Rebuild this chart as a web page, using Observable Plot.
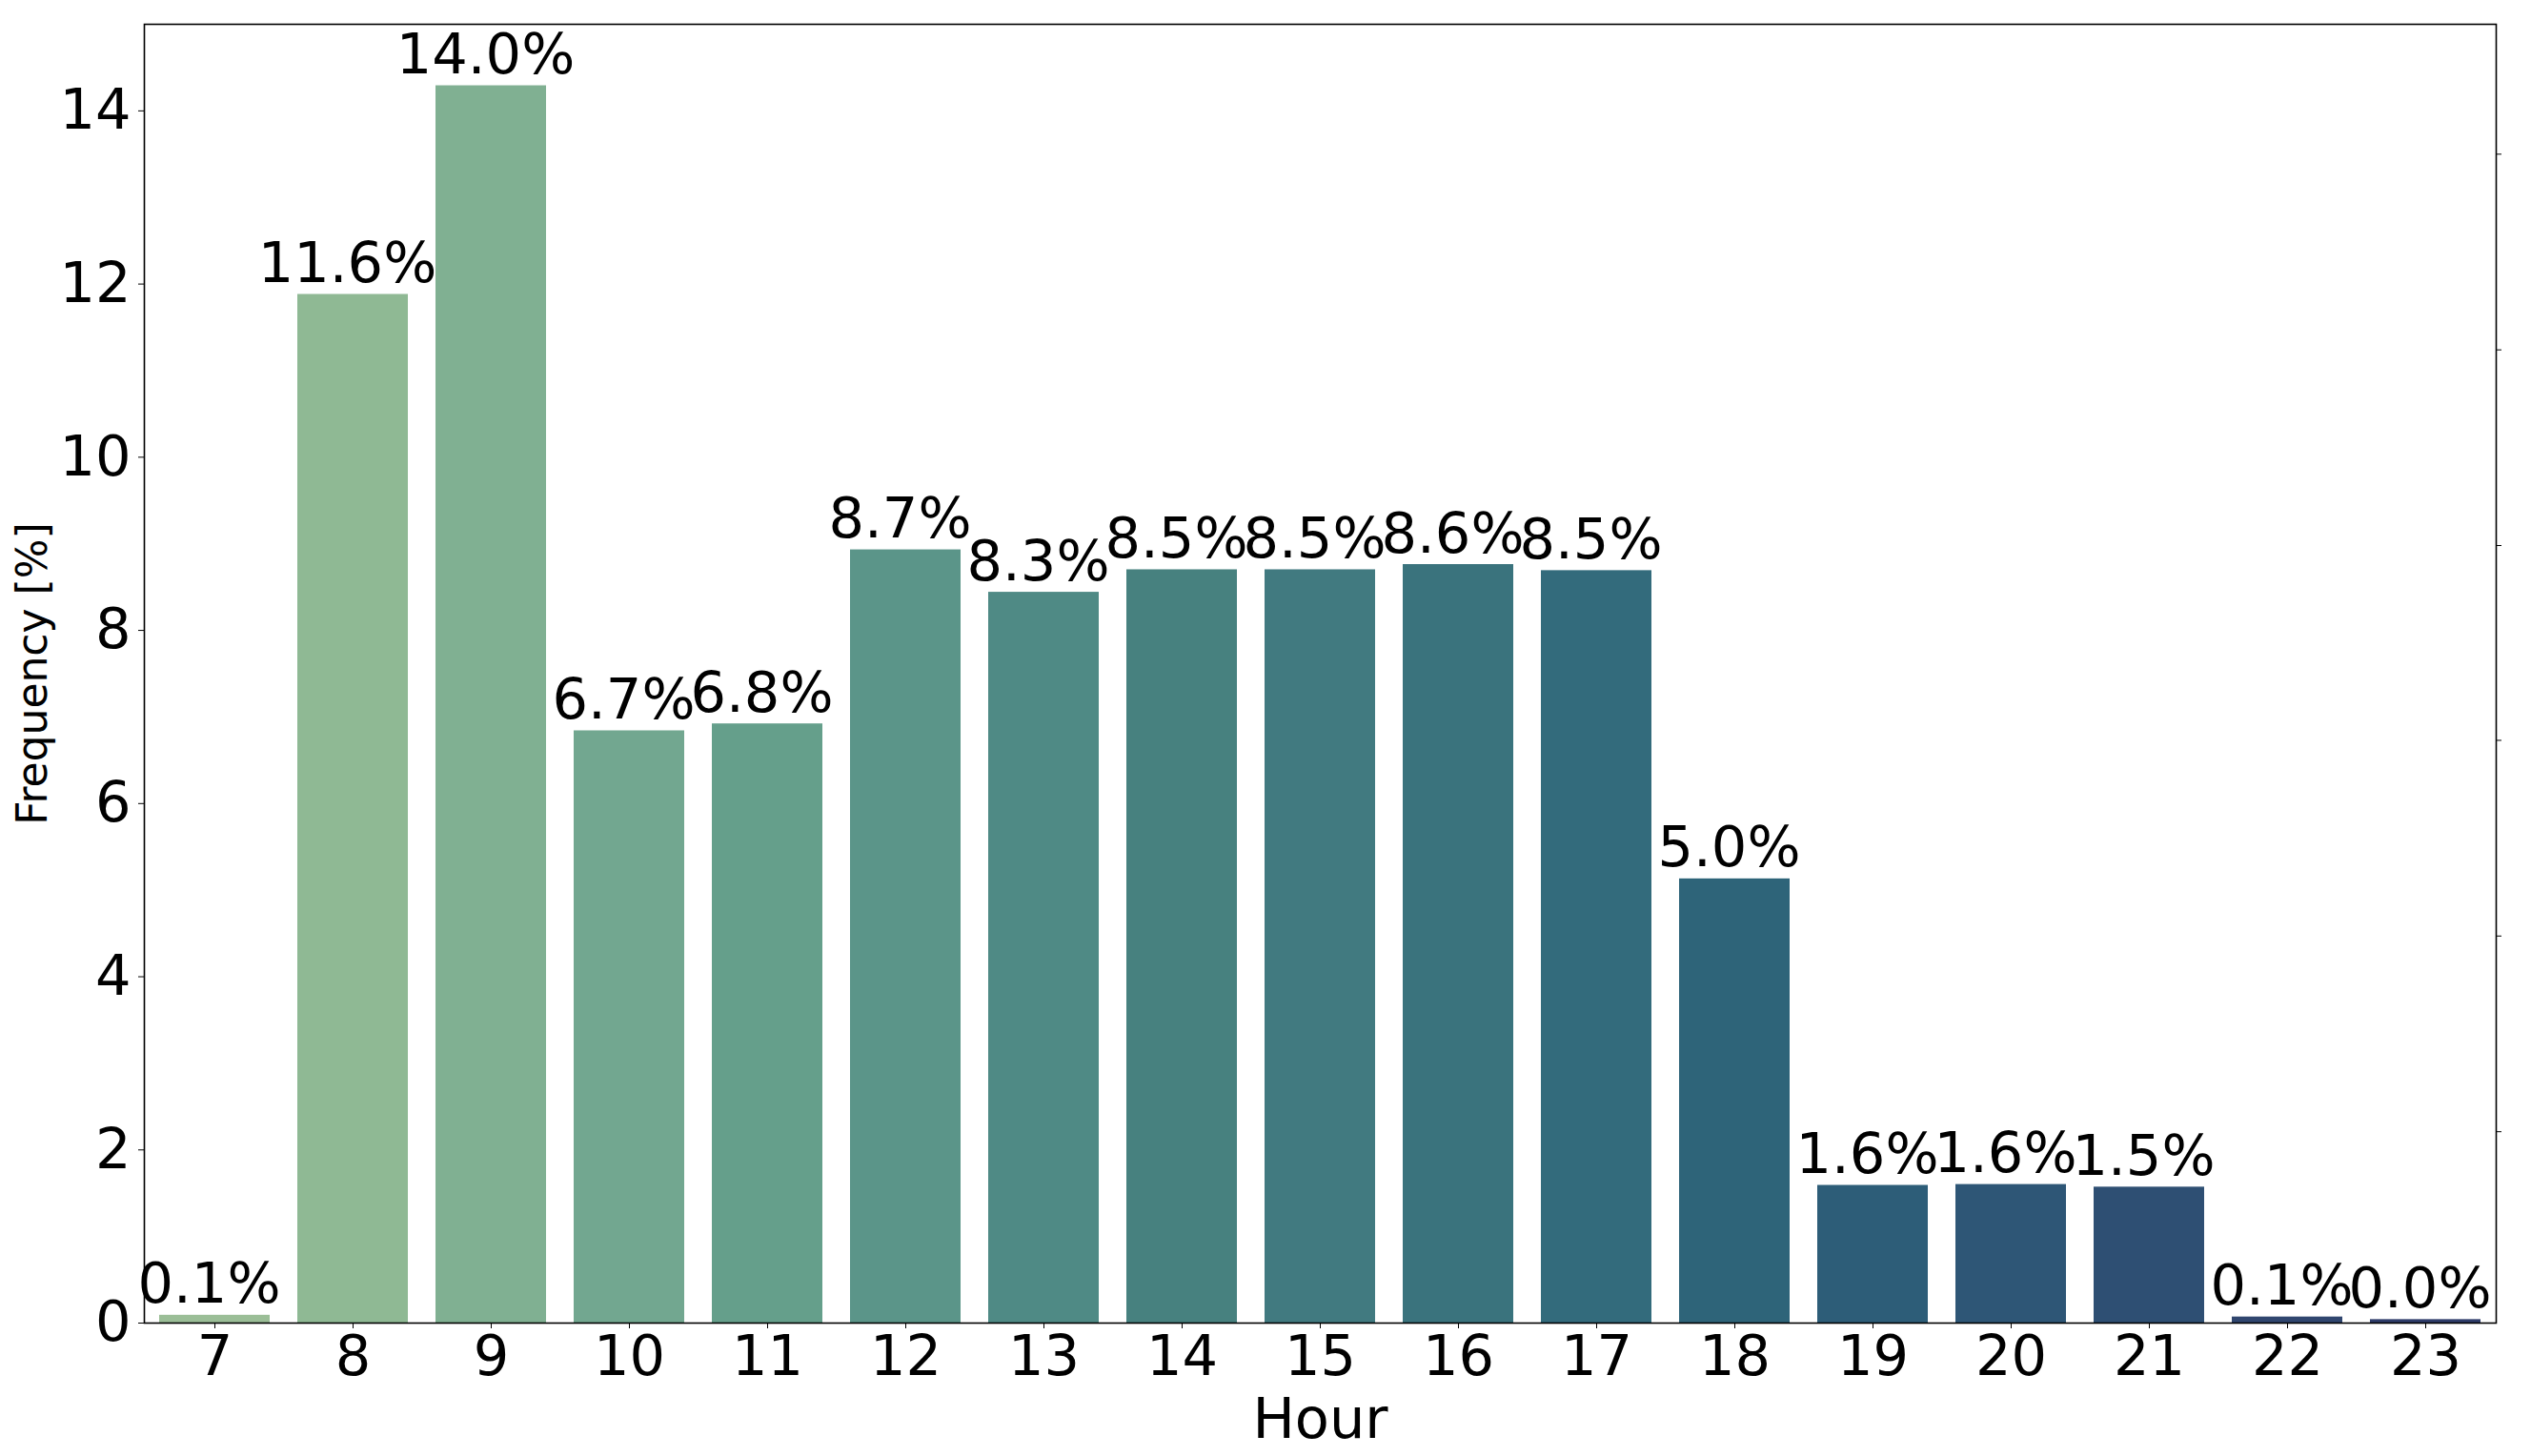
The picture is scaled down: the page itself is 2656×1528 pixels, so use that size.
<!DOCTYPE html>
<html>
<head>
<meta charset="utf-8">
<script src="https://cdn.jsdelivr.net/npm/d3@7"></script>
<script src="https://cdn.jsdelivr.net/npm/@observablehq/plot@0.6"></script>
<style>
  html, body { margin: 0; padding: 0; background: #ffffff; }
  #chart svg { display: block; }
</style>
</head>
<body>
<div id="chart"></div>
<script>
// Categories (hour of day)
const hours = [7, 8, 9, 10, 11, 12, 13, 14, 15, 16, 17, 18, 19, 20, 21, 22, 23];
// Bar heights (Frequency [%])
const frequency = [0.09, 11.88, 14.29, 6.84, 6.92, 8.93, 8.44, 8.70, 8.70, 8.76, 8.69, 5.13, 1.59, 1.60, 1.57, 0.07, 0.04];
// Text annotations printed above each bar
const barLabels = ["0.1%", "11.6%", "14.0%", "6.7%", "6.8%", "8.7%", "8.3%", "8.5%", "8.5%", "8.6%", "8.5%", "5.0%", "1.6%", "1.6%", "1.5%", "0.1%", "0.0%"];
// Axis ticks
const yTicks = [0, 2, 4, 6, 8, 10, 12, 14];
const rightTicks = [2.21, 4.47, 6.73, 8.98, 11.24, 13.50];
// Palette (crest-like, light green -> navy)
const barColors = ["#9bbe97", "#8fb994", "#80b092", "#72a790", "#659f8b", "#5b9589", "#4f8a85", "#47817f", "#417a80", "#3a737d", "#336b7c", "#2e6479", "#2d5d78", "#2e5676", "#2e4f73", "#30466f", "#2f3d6b"];

const data = hours.map((h, i) => ({hour: h, freq: frequency[i], label: barLabels[i]}));

const chart = Plot.plot({
  width: 2656,
  height: 1528,
  marginLeft: 151,
  marginRight: 37,
  marginTop: 25,
  marginBottom: 140,
  style: {fontFamily: "DejaVu Sans", background: "#ffffff", color: "#000000"},
  x: {type: "band", domain: hours, paddingInner: 0.2, paddingOuter: 0.1, label: null},
  y: {domain: [0, 15], label: null},
  color: {type: "ordinal", domain: hours, range: barColors},
  marks: [
    Plot.barY(data, {x: "hour", y: "freq", fill: "hour"}),
    Plot.text(data, {x: "hour", y: "freq", text: "label", lineAnchor: "bottom", dy: -13, dx: -6, fontSize: 59, fill: "#000"}),
    Plot.frame({stroke: "#000", strokeWidth: 1.6}),
    Plot.axisX({tickSize: 6, tickPadding: 7, fontSize: 59, label: "Hour", labelAnchor: "center", labelOffset: 120, labelArrow: "none"}),
    Plot.axisY(yTicks, {tickSize: 6, tickPadding: 8, fontSize: 59, tickFormat: d3.format("d"), label: null}),
    Plot.axisY({ticks: [], label: "Frequency [%]", labelAnchor: "center", labelOffset: 134, fontSize: 44, labelArrow: "none"}),
    Plot.axisY(rightTicks, {anchor: "right", tickSize: 5, tickFormat: () => "", label: null})
  ]
});

document.getElementById("chart").appendChild(chart);
</script>
</body>
</html>
